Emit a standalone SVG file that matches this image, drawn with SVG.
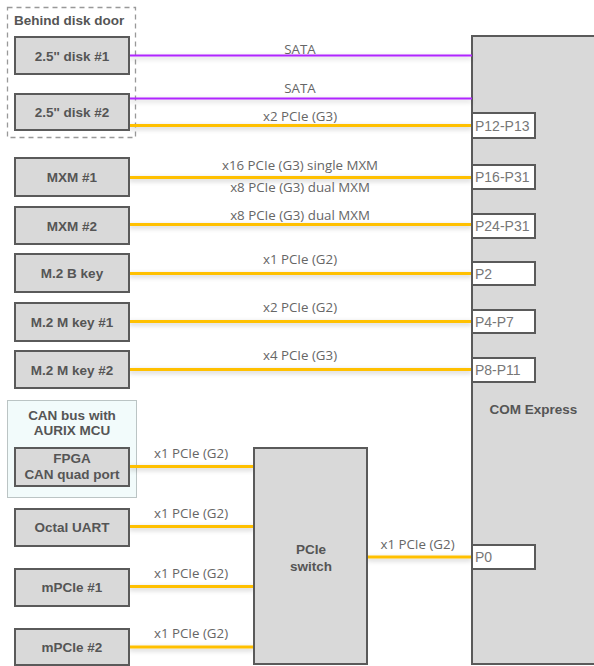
<svg xmlns="http://www.w3.org/2000/svg" width="594" height="666" viewBox="0 0 594 666">
<defs>
<filter id="sh" filterUnits="userSpaceOnUse" x="0" y="0" width="594" height="666">
<feDropShadow dx="0" dy="2" stdDeviation="2.5" flood-color="#000" flood-opacity="0.22"/>
</filter>
</defs>
<style>
.node{fill:#d9d9d9;stroke:#5a5a5a;stroke-width:2}
.port{fill:#fff;stroke:#5a5a5a;stroke-width:2}
.nt{font-family:"Liberation Sans",Arial,sans-serif;font-weight:bold;font-size:13.5px;fill:#555;text-anchor:middle}
.pt{font-family:"Liberation Sans",Arial,sans-serif;font-size:14px;fill:#777}
.lb{font-family:"Open Sans",sans-serif;font-size:13.3px;fill:#666;text-anchor:middle}
.pcie{stroke:#ffc000;stroke-width:3;fill:none;filter:url(#sh)}
.sata{stroke:#b026ff;stroke-width:2;fill:none;filter:url(#sh)}
</style>
<rect width="594" height="666" fill="#fff"/>

<g id="disk-door">
<rect x="7.5" y="7.5" width="128" height="130" fill="none" stroke="#999" stroke-width="1.3" stroke-dasharray="5,4"/>
<text x="14" y="25" class="nt" style="text-anchor:start">Behind disk door</text>
</g>

<g id="can-group">
<rect x="7.5" y="400.5" width="129" height="97" fill="#f2fbfb" stroke="#bbc4c4" stroke-width="1"/>
<text x="72" y="420" class="nt">CAN bus with</text>
<text x="72" y="435" class="nt">AURIX MCU</text>
</g>

<g id="com-express">
<rect x="472" y="36" width="130" height="628" class="node"/>
<text x="533.5" y="414" class="nt">COM Express</text>
</g>

<g id="connectors">
<line x1="129" y1="55.5" x2="472" y2="55.5" class="sata"/>
<line x1="129" y1="98.5" x2="472" y2="98.5" class="sata"/>
<line x1="129" y1="125.5" x2="472" y2="125.5" class="pcie"/>
<line x1="129" y1="177.5" x2="472" y2="177.5" class="pcie"/>
<line x1="129" y1="224.5" x2="472" y2="224.5" class="pcie"/>
<line x1="129" y1="273.5" x2="472" y2="273.5" class="pcie"/>
<line x1="129" y1="321.5" x2="472" y2="321.5" class="pcie"/>
<line x1="129" y1="369.5" x2="472" y2="369.5" class="pcie"/>
<line x1="129" y1="466.5" x2="254" y2="466.5" class="pcie"/>
<line x1="129" y1="526.5" x2="254" y2="526.5" class="pcie"/>
<line x1="129" y1="586.5" x2="254" y2="586.5" class="pcie"/>
<line x1="129" y1="647" x2="254" y2="647" class="pcie"/>
<line x1="367" y1="557" x2="472" y2="557" class="pcie"/>
<text x="300" y="54" class="lb">SATA</text>
<text x="300" y="93" class="lb">SATA</text>
<text x="300" y="121" class="lb">x2 PCIe (G3)</text>
<text x="300" y="170" class="lb">x16 PCIe (G3) single MXM</text>
<text x="300" y="192" class="lb">x8 PCIe (G3) dual MXM</text>
<text x="300" y="220" class="lb">x8 PCIe (G3) dual MXM</text>
<text x="300" y="264" class="lb">x1 PCIe (G2)</text>
<text x="300" y="312" class="lb">x2 PCIe (G2)</text>
<text x="300" y="360" class="lb">x4 PCIe (G3)</text>
<text x="191" y="458" class="lb">x1 PCIe (G2)</text>
<text x="191" y="518" class="lb">x1 PCIe (G2)</text>
<text x="191" y="578" class="lb">x1 PCIe (G2)</text>
<text x="191" y="638" class="lb">x1 PCIe (G2)</text>
<text x="417.5" y="549" class="lb">x1 PCIe (G2)</text>
</g>

<g id="disk1"><rect x="15" y="37" width="114" height="37" class="node"/><text x="72" y="60.5" class="nt">2.5'' disk #1</text></g>
<g id="disk2"><rect x="15" y="94" width="114" height="36" class="node"/><text x="72" y="117" class="nt">2.5'' disk #2</text></g>
<g id="mxm1"><rect x="15" y="158" width="114" height="38" class="node"/><text x="72" y="182" class="nt">MXM #1</text></g>
<g id="mxm2"><rect x="15" y="207" width="114" height="37" class="node"/><text x="72" y="231" class="nt">MXM  #2</text></g>
<g id="m2b"><rect x="15" y="254" width="114" height="38" class="node"/><text x="72" y="278" class="nt">M.2 B key</text></g>
<g id="m2m1"><rect x="15" y="303" width="114" height="38" class="node"/><text x="72" y="327" class="nt">M.2 M key #1</text></g>
<g id="m2m2"><rect x="15" y="351" width="114" height="37" class="node"/><text x="72" y="375" class="nt">M.2 M key #2</text></g>
<g id="fpga"><rect x="15" y="448" width="114" height="38" class="node"/><text x="72" y="463" class="nt">FPGA</text><text x="72" y="479" class="nt">CAN quad port</text></g>
<g id="uart"><rect x="15" y="509" width="114" height="37" class="node"/><text x="72" y="532" class="nt">Octal UART</text></g>
<g id="mpcie1"><rect x="15" y="569" width="114" height="37" class="node"/><text x="72" y="592" class="nt">mPCIe #1</text></g>
<g id="mpcie2"><rect x="15" y="629" width="114" height="36" class="node"/><text x="72" y="652" class="nt">mPCIe #2</text></g>
<g id="switch"><rect x="254" y="448" width="113" height="216" class="node"/><text x="311" y="554" class="nt">PCIe</text><text x="311" y="571" class="nt">switch</text></g>

<g id="p12"><rect x="472" y="113" width="63" height="25" class="port"/><text x="475" y="130.5" class="pt">P12-P13</text></g>
<g id="p16"><rect x="472" y="165" width="63" height="24" class="port"/><text x="475" y="182" class="pt">P16-P31</text></g>
<g id="p24"><rect x="472" y="214" width="63" height="24" class="port"/><text x="475" y="231" class="pt">P24-P31</text></g>
<g id="p2"><rect x="472" y="262" width="63" height="23" class="port"/><text x="475" y="278.5" class="pt">P2</text></g>
<g id="p4"><rect x="472" y="310" width="63" height="23" class="port"/><text x="475" y="326.5" class="pt">P4-P7</text></g>
<g id="p8"><rect x="472" y="358" width="63" height="24" class="port"/><text x="475" y="375" class="pt">P8-P11</text></g>
<g id="p0"><rect x="472" y="545" width="63" height="24" class="port"/><text x="475" y="562" class="pt">P0</text></g>
</svg>
